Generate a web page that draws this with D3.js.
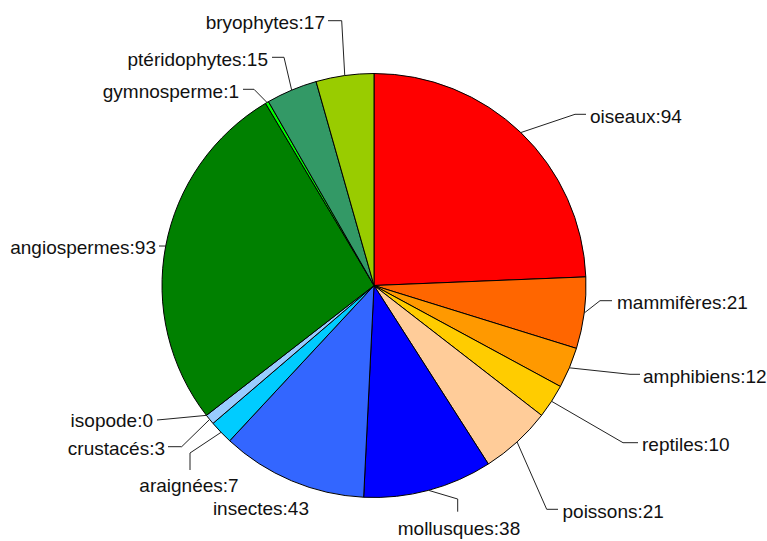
<!DOCTYPE html>
<html>
<head>
<meta charset="utf-8">
<script src="https://cdn.jsdelivr.net/npm/d3@7"></script>
<style>
  html, body { margin: 0; padding: 0; background: #fff; }
  svg { display: block; }
  text { font-family: "Liberation Sans", Arial, sans-serif; font-size: 19px; fill: #111; }
</style>
</head>
<body>
<svg id="chart" width="767" height="541"></svg>
<script>
// Categories in drawing order (clockwise from 12 o'clock)
const categories = ["oiseaux", "mammifères", "amphibiens", "reptiles", "poissons", "mollusques",
  "insectes", "araignées", "crustacés", "isopode", "angiospermes", "gymnosperme", "ptéridophytes", "bryophytes"];
// Counts displayed in the labels
const counts = [94, 21, 12, 10, 21, 38, 43, 7, 3, 0, 93, 1, 15, 17];
const sliceValues = [94, 21, 12, 10, 21, 38, 43, 7, 3, 0, 104, 1, 15, 17];
const colors = ["#FF0000", "#FF6600", "#FF9900", "#FFCC00", "#FFCC99", "#0000FF",
  "#3366FF", "#00CCFF", "#99CCFF", "#CCFFFF", "#008000", "#00FF00", "#339966", "#99CC00"];

// Label layout: knee point, line end, text anchor & position
const labelLayout = [
  { knee: [575, 114.3], end: [586, 114.3], anchor: "start", tx: 590, ty: 122.5 },
  { knee: [600, 300.7], end: [612, 300.7], anchor: "start", tx: 617, ty: 309.2 },
  { knee: [630, 374.3], end: [640, 374.3], anchor: "start", tx: 643, ty: 382.8 },
  { knee: [623, 442.7], end: [638, 442.7], anchor: "start", tx: 642, ty: 451.2 },
  { knee: [546.7, 509.3], end: [558, 509.3], anchor: "start", tx: 562.5, ty: 517.5 },
  { knee: [457.7, 499], end: [457.7, 511.7], anchor: "middle", tx: 459, ty: 535 },
  { knee: null, end: null, anchor: "end", tx: 309, ty: 515 },
  { knee: [190, 453], end: [190, 470], anchor: "middle", tx: 189, ty: 492 },
  { knee: [181.7, 446.7], end: [168, 446.7], anchor: "end", tx: 165, ty: 455 },
  { knee: [168, 419], end: [157, 420], anchor: "end", tx: 153, ty: 427 },
  { knee: [160, 246], end: [159, 246], anchor: "end", tx: 156, ty: 253.5 },
  { knee: [254, 89.3], end: [243, 89.3], anchor: "end", tx: 239, ty: 97.8 },
  { knee: [284, 57.3], end: [272, 57.3], anchor: "end", tx: 268, ty: 65.8 },
  { knee: [341.7, 20.7], end: [328, 20.7], anchor: "end", tx: 325, ty: 29.2 }
];

const cx = 374, cy = 285.5, r = 212;
const svg = d3.select("#chart");
const g = svg.append("g").attr("transform", `translate(${cx},${cy})`);

const data = categories.map((c, i) => ({ name: c, count: counts[i], value: sliceValues[i], color: colors[i], layout: labelLayout[i] }));

const pie = d3.pie().sort(null).value(d => d.value).startAngle(0).endAngle(2 * Math.PI);
const arcs = pie(data);
const arc = d3.arc().innerRadius(0).outerRadius(r);
const edgeArc = d3.arc().innerRadius(r).outerRadius(r);

g.selectAll("path.slice")
  .data(arcs.filter(d => d.data.value > 0))
  .join("path")
  .attr("class", "slice")
  .attr("d", arc)
  .attr("fill", d => d.data.color)
  .attr("stroke", "#000")
  .attr("stroke-width", 1)
  .attr("stroke-linejoin", "round");

// leader lines
const lineG = svg.append("g");
arcs.forEach(d => {
  const L = d.data.layout;
  if (!L.knee) return;
  const c = edgeArc.centroid(d);
  const start = [c[0] + cx, c[1] + cy];
  lineG.append("polyline")
    .attr("points", [start, L.knee, L.end].map(p => p.join(",")).join(" "))
    .attr("fill", "none")
    .attr("stroke", "#222")
    .attr("stroke-width", 1);
});

// labels
svg.append("g").selectAll("text")
  .data(arcs)
  .join("text")
  .attr("x", d => d.data.layout.tx)
  .attr("y", d => d.data.layout.ty)
  .attr("text-anchor", d => d.data.layout.anchor)
  .text(d => `${d.data.name}:${d.data.count}`);
</script>
</body>
</html>
